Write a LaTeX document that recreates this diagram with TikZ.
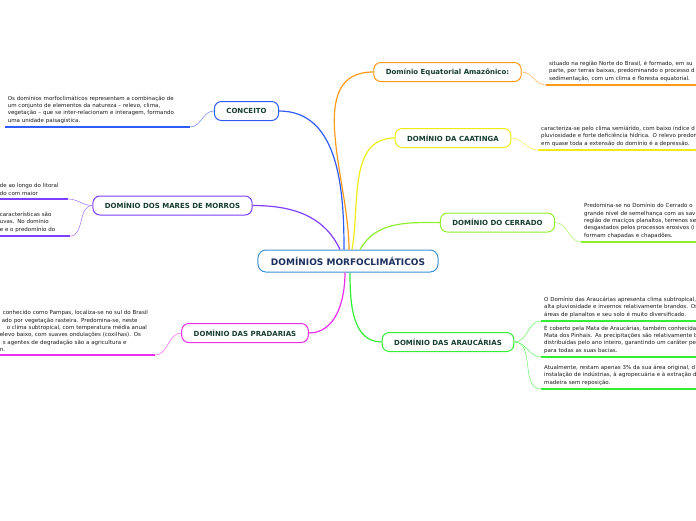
\documentclass[tikz,border=0pt]{standalone}
\usepackage{fontspec}
\setmainfont{DejaVu Sans}
\usepackage{tikz}
\usetikzlibrary{positioning}
\definecolor{rootblue}{HTML}{3D8FD6}
\definecolor{rootink}{HTML}{1A2F5E}
\definecolor{topicink}{HTML}{163D2E}
\definecolor{cblue}{HTML}{2F5CF5}
\definecolor{cpurple}{HTML}{7F3FFF}
\definecolor{cmagenta}{HTML}{EE2EEE}
\definecolor{corange}{HTML}{FF9A1A}
\definecolor{cyellow}{HTML}{EEEE15}
\definecolor{clime}{HTML}{8FEF2F}
\definecolor{cgreen}{HTML}{33EE33}

\begin{document}
\begin{tikzpicture}[
    x=1pt, y=-1pt,
    root_box/.style={draw=rootblue, fill=white, rounded corners=8pt, line width=1pt, minimum height=22pt, inner xsep=13pt, font=\fontsize{9}{10}\selectfont\bfseries, text=rootink},
    topic_box/.style={draw=#1, fill=white, rounded corners=7pt, line width=1pt, minimum height=19pt, inner xsep=12pt, font=\fontsize{7}{8}\selectfont\bfseries, text=topicink},
    leaf_text/.style={align=left, inner xsep=3pt, inner ysep=3.5pt, font=\fontsize{5.5}{7.3}\selectfont, text=black!90},
    branch_path/.style={draw=#1, line width=1.2pt},
    leaf_path/.style={draw=#1!65, line width=0.6pt},
    leaf_rule/.style={draw=#1, line width=1.6pt}
  ]
    \useasboundingbox (0,0) rectangle (696,520);
    \clip (0,0) rectangle (696,520);

    \node[root_box] (root) at (348,261) {DOMÍNIOS MORFOCLIMÁTICOS};

    \node[topic_box=cblue] (conceito) at (246.5,111) {CONCEITO};
    \node[topic_box=cpurple] (mares) at (172.5,205.5) {DOMÍNIO DOS MARES DE MORROS};
    \node[topic_box=cmagenta] (pradarias) at (245,333) {DOMÍNIO DAS PRADARIAS};
    \node[topic_box=corange] (amazonico) at (447.5,72) {Domínio Equatorial Amazônico:};
    \node[topic_box=cyellow] (caatinga) at (453,138) {DOMÍNIO DA CAATINGA};
    \node[topic_box=clime] (cerrado) at (497.5,222.5) {DOMÍNIO DO CERRADO};
    \node[topic_box=cgreen] (araucarias) at (448,342) {DOMÍNIO DAS ARAUCÁRIAS};

    \node[leaf_text, text width=179pt, anchor=south east] (conceito_txt) at (190,127)
      {Os domínios morfoclimáticos representam a combinação de\\um conjunto de elementos da natureza – relevo, clima,\\vegetação – que se inter-relacionam e interagem, formando\\uma unidade paisagística.};
    \node[leaf_text, text width=65pt, anchor=south east] (mares_a) at (68,199)
      {de ao longo do litoral\\do com maior};
    \node[leaf_text, text width=67pt, anchor=south east] (mares_b) at (70,236)
      {características são\\uvas. No domínio\\e e o predomínio do};
    \node[leaf_text, text width=152pt, anchor=south east] (pradarias_txt) at (155,355)
      {\hspace*{3pt}conhecido como Pampas, localiza-se no sul do Brasil\\\hspace*{2pt}ado por vegetação rasteira. Predomina-se, neste\\\hspace*{7pt}o clima subtropical, com temperatura média anual\\elevo baixo, com suaves ondulações (coxilhas). Os\\\hspace*{3pt}s agentes de degradação são a agricultura e\\n.};

    \node[leaf_text, text width=200pt, anchor=south west] (amazonico_txt) at (546,85)
      {situado na região Norte do Brasil, é formado, em su\\parte, por terras baixas, predominando o processo d\\sedimentação, com um clima e floresta equatorial.};
    \node[leaf_text, text width=200pt, anchor=south west] (caatinga_txt) at (538,150)
      {caracteriza-se pelo clima semiárido, com baixo índice d\\pluviosidade e forte deficiência hídrica. O relevo predom\\em quase toda a extensão do domínio é a depressão.};
    \node[leaf_text, text width=200pt, anchor=south west] (cerrado_txt) at (581,242)
      {Predomina-se no Domínio do Cerrado o\\grande nível de semelhança com as sav\\região de maciços planaltos, terrenos se\\desgastados pelos processos erosivos (i\\formam chapadas e chapadões.};
    \node[leaf_text, text width=200pt, anchor=south west] (araucarias_a) at (541,321)
      {O Domínio das Araucárias apresenta clima subtropical,\\alta pluviosidade e invernos relativamente brandos. Os\\áreas de planaltos e seu solo é muito diversificado.};
    \node[leaf_text, text width=200pt, anchor=south west] (araucarias_b) at (541,357)
      {É coberto pela Mata de Araucárias, também conhecida\\Mata dos Pinhais. As precipitações são relativamente b\\distribuídas pelo ano inteiro, garantindo um caráter pe\\para todas as suas bacias.};
    \node[leaf_text, text width=200pt, anchor=south west] (araucarias_c) at (541,389)
      {Atualmente, restam apenas 3\% da sua área original, d\\instalação de indústrias, à agropecuária e à extração d\\madeira sem reposição.};

    \draw[leaf_rule=cblue] (conceito_txt.south west) -- (conceito_txt.south east);
    \draw[leaf_rule=cpurple] (mares_a.south west) -- (mares_a.south east);
    \draw[leaf_rule=cpurple] (mares_b.south west) -- (mares_b.south east);
    \draw[leaf_rule=cmagenta] (pradarias_txt.south west) -- (pradarias_txt.south east);
    \draw[leaf_rule=corange] (amazonico_txt.south west) -- (amazonico_txt.south east);
    \draw[leaf_rule=cyellow] (caatinga_txt.south west) -- (caatinga_txt.south east);
    \draw[leaf_rule=clime] (cerrado_txt.south west) -- (cerrado_txt.south east);
    \draw[leaf_rule=cgreen] (araucarias_a.south west) -- (araucarias_a.south east);
    \draw[leaf_rule=cgreen] (araucarias_b.south west) -- (araucarias_b.south east);
    \draw[leaf_rule=cgreen] (araucarias_c.south west) -- (araucarias_c.south east);

    \draw[branch_path=cblue] ([xshift=-4pt]root.north) to[out=90, in=0] (conceito.east);
    \draw[branch_path=cpurple] ([xshift=-8pt]root.north) to[out=115, in=0] (mares.east);
    \draw[branch_path=corange] ([xshift=1pt]root.north) to[out=90, in=180] (amazonico.west);
    \draw[branch_path=cyellow] ([xshift=4pt]root.north) to[out=80, in=180] (caatinga.west);
    \draw[branch_path=clime] ([xshift=12pt]root.north) to[out=60, in=180] (cerrado.west);
    \draw[branch_path=cmagenta] ([xshift=-3pt]root.south) to[out=-90, in=0] (pradarias.east);
    \draw[branch_path=cgreen] ([xshift=2pt]root.south) to[out=-90, in=180] (araucarias.west);

    \draw[leaf_path=cblue] (conceito.west) to[out=180, in=0] (conceito_txt.south east);
    \draw[leaf_path=cpurple] (mares.west) to[out=180, in=0] (mares_a.south east);
    \draw[leaf_path=cpurple] (mares.west) to[out=180, in=0] (mares_b.south east);
    \draw[leaf_path=cmagenta] (pradarias.west) to[out=180, in=0] (pradarias_txt.south east);
    \draw[leaf_path=corange] (amazonico.east) to[out=0, in=180] (amazonico_txt.south west);
    \draw[leaf_path=cyellow] (caatinga.east) to[out=0, in=180] (caatinga_txt.south west);
    \draw[leaf_path=clime] (cerrado.east) to[out=0, in=180] (cerrado_txt.south west);
    \draw[leaf_path=cgreen] (araucarias.east) to[out=0, in=180] (araucarias_a.south west);
    \draw[leaf_path=cgreen] (araucarias.east) to[out=0, in=180] (araucarias_b.south west);
    \draw[leaf_path=cgreen] (araucarias.east) to[out=0, in=180] (araucarias_c.south west);
  \end{tikzpicture}
\end{document}
